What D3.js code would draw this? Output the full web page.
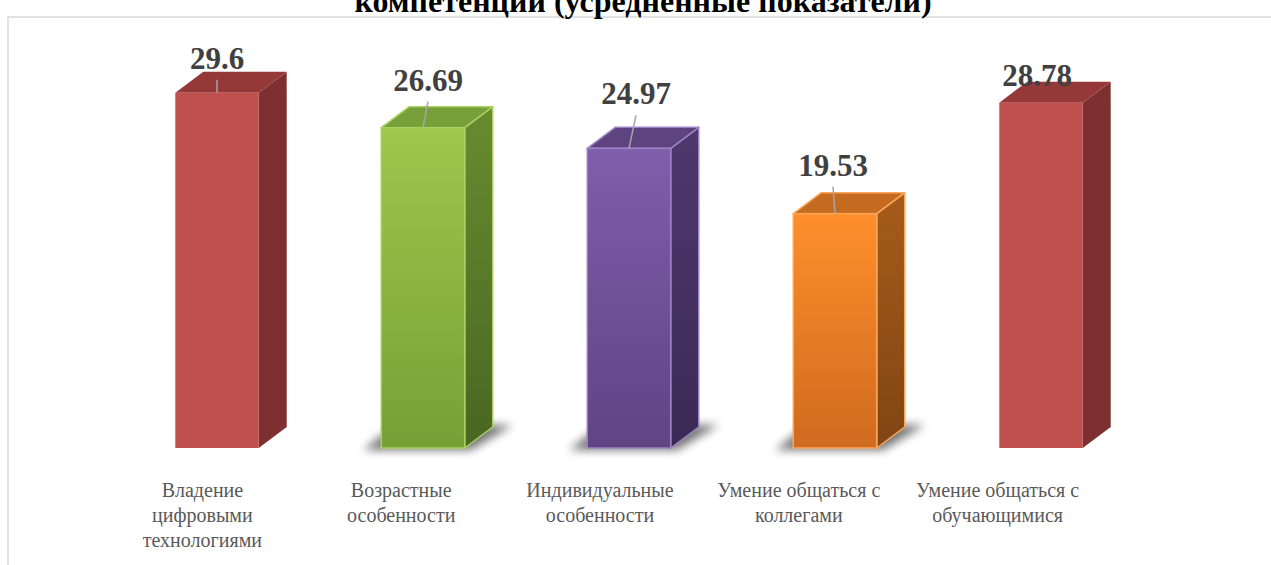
<!DOCTYPE html>
<html lang="ru">
<head>
<meta charset="utf-8">
<title>Компетенции (усредненные показатели)</title>
<script src="https://d3js.org/d3.v7.min.js"></script>
<style>
  body { margin: 0; padding: 0; background: #fff; overflow: hidden; }
  svg { display: block; }
</style>
</head>
<body>
<svg id="chart" width="1271" height="565"></svg>
<script>
// data
const categories = [
  "Владение цифровыми технологиями",
  "Возрастные особенности",
  "Индивидуальные особенности",
  "Умение общаться с коллегами",
  "Умение общаться с обучающимися"
];
const categoryLines = [
  ["Владение", "цифровыми", "технологиями"],
  ["Возрастные", "особенности"],
  ["Индивидуальные", "особенности"],
  ["Умение общаться с", "коллегами"],
  ["Умение общаться с", "обучающимися"]
];
const values = [29.6, 26.69, 24.97, 19.53, 28.78];
const valueLabels = ["29.6", "26.69", "24.97", "19.53", "28.78"];

// data labels were dragged by hand in the original, so keep the nudges
const labelLift = [24, 37, 44, 38, 17];
const labelShift = [0, 5, 7, -2, -4];

// colours per bar: front top, front bottom, side top, side bottom, top face, outline, shadow
const palette = [
  { ft: "#c0504d", fb: "#c0504d", st: "#7e3030", sb: "#7e3030", top: "#943838", edge: null, shadow: false },
  { ft: "#9ec74c", fb: "#76a035", st: "#678c2f", sb: "#4a6623", top: "#77a03a", edge: "#a9d15f", shadow: true },
  { ft: "#7f5eab", fb: "#5f4484", st: "#4e386e", sb: "#3a2a54", top: "#5e4381", edge: "#9c82c2", shadow: true },
  { ft: "#fe8f2b", fb: "#cf6a1f", st: "#a65c19", sb: "#7f4514", top: "#c56b1f", edge: "#fba65a", shadow: true },
  { ft: "#c0504d", fb: "#c0504d", st: "#7e3030", sb: "#7e3030", top: "#943838", edge: null, shadow: false }
];

const svg = d3.select("#chart");
const W = 1271, H = 565;
const depthX = 28, depthY = 21;

const x = d3.scaleBand().domain(categories).range([114, 1144]);
const xLabel = d3.scaleBand().domain(categories).range([103, 1097]);
const y = d3.scaleLinear().domain([0, 30]).range([448, 88]);
const barW = x.bandwidth() * 0.405;

const defs = svg.append("defs");
defs.append("filter").attr("id", "blur")
  .attr("x", "-50%").attr("y", "-50%").attr("width", "200%").attr("height", "200%")
  .append("feGaussianBlur").attr("stdDeviation", 5);

palette.forEach((p, i) => {
  const gf = defs.append("linearGradient").attr("id", "front" + i)
    .attr("x1", 0).attr("y1", 0).attr("x2", 0).attr("y2", 1);
  gf.append("stop").attr("offset", "0%").attr("stop-color", p.ft);
  gf.append("stop").attr("offset", "100%").attr("stop-color", p.fb);
  const gs = defs.append("linearGradient").attr("id", "side" + i)
    .attr("x1", 0).attr("y1", 0).attr("x2", 0).attr("y2", 1);
  gs.append("stop").attr("offset", "0%").attr("stop-color", p.st);
  gs.append("stop").attr("offset", "100%").attr("stop-color", p.sb);
});

// chart area border (runs off the right and bottom)
svg.append("rect")
  .attr("x", 8).attr("y", 17)
  .attr("width", W + 40).attr("height", H + 40)
  .attr("fill", "none")
  .attr("stroke", "#d9d9d9")
  .attr("stroke-width", 1.5);

// title, cut off at the top like the source
svg.append("text")
  .attr("x", 643).attr("y", 12)
  .attr("text-anchor", "middle")
  .attr("font-family", "'Liberation Serif', 'Times New Roman', serif")
  .attr("font-weight", "bold")
  .attr("font-size", 32)
  .attr("fill", "#000")
  .text("компетенций (усредненные показатели)");

const rows = categories.map((c, i) => ({ c, i, v: values[i], p: palette[i] }));

// floor shadows
svg.append("g").selectAll("polygon")
  .data(rows.filter(d => d.p.shadow))
  .join("polygon")
  .attr("points", d => {
    const x0 = x(d.c) + (x.bandwidth() - barW) / 2, x1 = x0 + barW, b = y(0);
    return [[x0 - 18, b + 2], [x1 + 6, b + 2], [x1 + depthX + 20, b - depthY - 2], [x0 + 14, b - depthY - 2]].join(" ");
  })
  .attr("fill", "#000")
  .attr("opacity", 0.55)
  .attr("filter", "url(#blur)");

const bars = svg.append("g").selectAll("g")
  .data(rows)
  .join("g");

bars.each(function (d) {
  const g = d3.select(this);
  const x0 = x(d.c) + (x.bandwidth() - barW) / 2, x1 = x0 + barW;
  const t = y(d.v), b = y(0);
  const sw = d.p.edge ? 1.5 : 0;
  // side face
  g.append("polygon")
    .attr("points", [[x1, b], [x1 + depthX, b - depthY], [x1 + depthX, t - depthY], [x1, t]].join(" "))
    .attr("fill", `url(#side${d.i})`)
    .attr("stroke", d.p.edge || "none").attr("stroke-width", sw).attr("stroke-linejoin", "round");
  // top face
  g.append("polygon")
    .attr("points", [[x0, t], [x0 + depthX, t - depthY], [x1 + depthX, t - depthY], [x1, t]].join(" "))
    .attr("fill", d.p.top)
    .attr("stroke", d.p.edge || "none").attr("stroke-width", sw).attr("stroke-linejoin", "round");
  // front face
  g.append("rect")
    .attr("x", x0).attr("y", t)
    .attr("width", barW).attr("height", b - t)
    .attr("fill", `url(#front${d.i})`)
    .attr("stroke", d.p.edge || "none").attr("stroke-width", sw);
});

// leader lines + value labels
const lab = svg.append("g");
rows.forEach(d => {
  const cx = x(d.c) + x.bandwidth() / 2;
  const t = y(d.v);
  const lx = cx + labelShift[d.i];
  const base = t - labelLift[d.i];
  if (t - (base + 11) > 10) {
    lab.append("line")
      .attr("x1", lx).attr("y1", base + 11)
      .attr("x2", cx).attr("y2", t)
      .attr("stroke", "#a6a6a6").attr("stroke-width", 1.5);
  }
  lab.append("text")
    .attr("x", lx).attr("y", base)
    .attr("text-anchor", "middle")
    .attr("font-family", "'Liberation Serif', 'Times New Roman', serif")
    .attr("font-weight", "bold")
    .attr("font-size", 31)
    .attr("fill", "#404040")
    .text(valueLabels[d.i]);
});

// category labels
const cat = svg.append("g").selectAll("text")
  .data(rows)
  .join("text")
  .attr("text-anchor", "middle")
  .attr("font-family", "'Liberation Serif', 'Times New Roman', serif")
  .attr("font-size", 20)
  .attr("fill", "#595959");

cat.selectAll("tspan")
  .data(d => categoryLines[d.i].map(s => ({ s, c: d.c })))
  .join("tspan")
  .attr("x", d => xLabel(d.c) + xLabel.bandwidth() / 2)
  .attr("y", (d, k) => 497 + k * 25)
  .text(d => d.s);
</script>
</body>
</html>
